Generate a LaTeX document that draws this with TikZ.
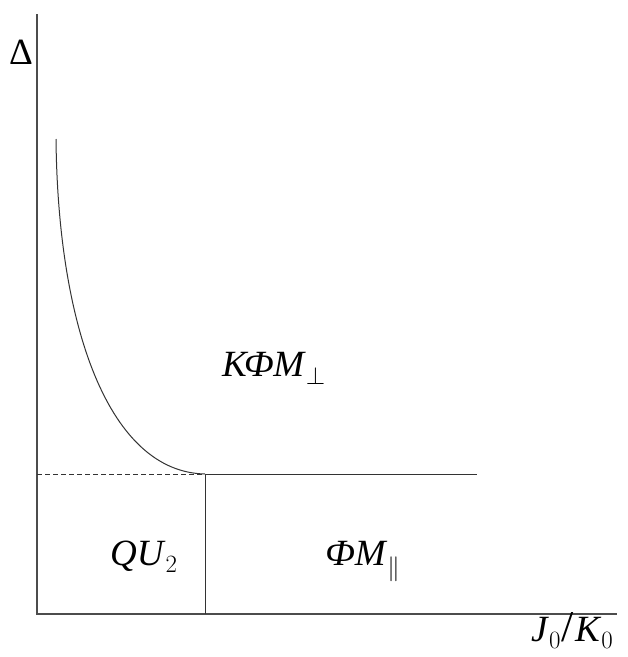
\documentclass[tikz,border=0pt]{standalone}
\usepackage{fontspec}
\setmainfont{Liberation Serif}
\usepackage{tikz}
\usetikzlibrary{positioning}

\begin{document}
\begin{tikzpicture}[
x=1pt, y=-1pt,
lbl/.style={anchor=base west, inner sep=0pt, font=\fontsize{37}{40}\selectfont},
ax/.style={line width=1.2pt, black!70},
bnd/.style={line width=1pt, black!80}
]
\useasboundingbox (0,0) rectangle (628,657);

% axes
\coordinate (top) at (37,14);
\coordinate (orig) at (37,614);
\coordinate (xend) at (617,614);
\draw[ax] (top) -- (orig) -- (xend);

% phase boundaries
\coordinate (cstart) at (56,139);
\coordinate (tri) at (205,474);
\coordinate (lend) at (477,474);
\coordinate (ldash) at (37,474);
\coordinate (vbot) at (205,614);
\draw[bnd] (cstart) .. controls (58,330) and (110,472) .. (tri);
\draw[bnd, dashed, dash pattern=on 5pt off 3pt] (ldash) -- (tri);
\draw[bnd] (tri) -- (lend);
\draw[bnd] (tri) -- (vbot);

% labels
\node[lbl] (dlt) at (9,64) {Δ};
\node[lbl] (kfm) at (222,376) {\textit{КФМ}$_{\perp}$};
\node[lbl] (qu) at (110,565) {\textit{QU}$_{2}$};
\node[lbl] (fm) at (325,565) {\textit{ФМ}$_{\|}$};
\node[lbl] (jk) at (531,641) {\textit{J}$_{0}$\kern1pt{\fontsize{44}{44}\selectfont/}\kern1pt\textit{K}$_{0}$};
\end{tikzpicture}
\end{document}
